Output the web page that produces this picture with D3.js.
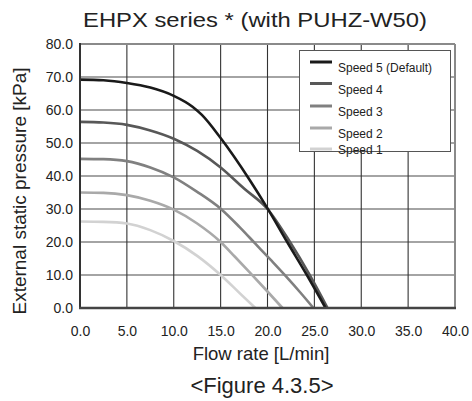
<!DOCTYPE html>
<html>
<head>
<meta charset="utf-8">
<script src="https://cdn.jsdelivr.net/npm/d3@7/dist/d3.min.js"></script>
<style>
  html, body { margin: 0; padding: 0; background: #fff; }
  svg { display: block; font-family: "Liberation Sans", Arial, sans-serif; }
</style>
</head>
<body>
<svg id="chart" width="472" height="401"></svg>
<script>
// ---- data ----
const title = "EHPX series * (with PUHZ-W50)";
const caption = "<Figure 4.3.5>";
const xLabel = "Flow rate [L/min]";
const yLabel = "External static pressure [kPa]";
const xTicks = [0, 5, 10, 15, 20, 25, 30, 35, 40];
const yTicks = [0, 10, 20, 30, 40, 50, 60, 70, 80];
const seriesNames = ["Speed 5 (Default)", "Speed 4", "Speed 3", "Speed 2", "Speed 1"];
const seriesColors = ["#1a1a1a", "#585858", "#808080", "#a9a9a9", "#d2d2d2"];

const speed5 = [[0,69.2],[2.5,69.0],[5,68.2],[7.5,66.8],[10,64.3],[12,61.0],[13,58.5],[15,51.5],[18.1,38.8],[20,30.2],[22.1,20.0],[24.2,10.0],[26.2,0]];
const speed4 = [[0,56.4],[2.5,56.2],[5,55.5],[7.5,53.8],[10,51.3],[12.5,47.6],[15,42.6],[17.5,36.2],[20,30.0],[22.4,20.0],[24.5,10.0],[26.4,0]];
const speed3 = [[0,45.2],[2.5,45.1],[5,44.5],[7.5,42.6],[10,39.6],[12.5,35.2],[15,30.1],[17,24.6],[18.7,19.5],[20.4,14.4],[22,9.5],[23.5,4.7],[24.9,0]];
const speed2 = [[0,35.0],[2.5,34.9],[5,34.2],[7.5,32.5],[10,29.8],[12.5,25.6],[15,20.0],[16.5,15.6],[18,11.1],[19.9,5.3],[21.6,0]];
const speed1 = [[0,26.2],[2.5,26.1],[5,25.6],[7.5,23.6],[10,20.3],[12.5,15.8],[15,10.0],[17,4.6],[18.7,0]];
const seriesData = [speed5, speed4, speed3, speed2, speed1];

// ---- layout ----
const L = 80, R = 455, T = 44, B = 308;
const svg = d3.select("#chart");
const x = d3.scaleLinear().domain([0, 40]).range([L, R]);
const y = d3.scaleLinear().domain([0, 80]).range([B, T]);

// grid
svg.append("g").selectAll("line").data(yTicks.slice(1, -1)).join("line")
  .attr("x1", L).attr("x2", R).attr("y1", d => y(d)).attr("y2", d => y(d))
  .attr("stroke", "#4a4a4a").attr("stroke-width", 1.2);
svg.append("g").selectAll("line").data(xTicks.slice(1, -1)).join("line")
  .attr("y1", T).attr("y2", B).attr("x1", d => x(d)).attr("x2", d => x(d))
  .attr("stroke", "#333").attr("stroke-width", 1.1);

// border top/right
svg.append("line").attr("x1", L).attr("x2", R).attr("y1", T).attr("y2", T)
  .attr("stroke", "#8a8a8a").attr("stroke-width", 2);
svg.append("line").attr("x1", R).attr("x2", R).attr("y1", T).attr("y2", B)
  .attr("stroke", "#8a8a8a").attr("stroke-width", 2);

// curves
const line = d3.line().x(d => x(d[0])).y(d => y(d[1])).curve(d3.curveMonotoneX);
svg.append("g").selectAll("path").data(seriesData.slice().reverse()).join("path")
  .attr("d", line)
  .attr("fill", "none")
  .attr("stroke", (d, i) => seriesColors[seriesData.length - 1 - i])
  .attr("stroke-width", 2.6)
  .attr("stroke-linejoin", "round");

// axes lines (left, bottom)
svg.append("line").attr("x1", L).attr("x2", L).attr("y1", T - 1).attr("y2", B + 1)
  .attr("stroke", "#333").attr("stroke-width", 2);
svg.append("line").attr("x1", L - 1).attr("x2", R + 1).attr("y1", B).attr("y2", B)
  .attr("stroke", "#444").attr("stroke-width", 2.5);

// axis tick labels via d3 axes
const yAxis = d3.axisLeft(y).tickValues(yTicks).tickFormat(d3.format(".1f")).tickSize(0).tickPadding(7);
const gy = svg.append("g").attr("transform", `translate(${L},0)`).call(yAxis);
gy.select(".domain").remove();
gy.selectAll("text").attr("font-size", 14).attr("fill", "#222")
  .attr("font-family", "Liberation Sans, Arial, sans-serif");

const xAxis = d3.axisBottom(x).tickValues(xTicks).tickFormat(d3.format(".1f")).tickSize(0).tickPadding(18);
const gx = svg.append("g").attr("transform", `translate(0,${B})`).call(xAxis);
gx.select(".domain").remove();
gx.selectAll("text").attr("font-size", 14).attr("fill", "#222")
  .attr("font-family", "Liberation Sans, Arial, sans-serif");

// legend
const lg = svg.append("g");
lg.append("rect").attr("x", 299.5).attr("y", 50.5).attr("width", 151).attr("height", 101)
  .attr("fill", "#fff").attr("stroke", "#555").attr("stroke-width", 1);
const rowLineY = [62, 83.5, 106, 128, 149];
const rowTextY = [72, 93.5, 116, 138, 154];
seriesNames.forEach((name, i) => {
  lg.append("line").attr("x1", 310).attr("x2", 332)
    .attr("y1", rowLineY[i]).attr("y2", rowLineY[i])
    .attr("stroke", seriesColors[i]).attr("stroke-width", 3);
  lg.append("text").attr("x", 338).attr("y", rowTextY[i])
    .attr("font-size", 12).attr("fill", "#222").text(name);
});

// titles
svg.append("text").attr("x", 255).attr("y", 27).attr("text-anchor", "middle")
  .attr("font-size", 21).attr("fill", "#222")
  .attr("textLength", 344).attr("lengthAdjust", "spacingAndGlyphs")
  .text(title);
svg.append("text").attr("x", 261).attr("y", 360).attr("text-anchor", "middle")
  .attr("font-size", 18.5).attr("fill", "#222").text(xLabel);
svg.append("text").attr("x", 262).attr("y", 393).attr("text-anchor", "middle")
  .attr("font-size", 22).attr("fill", "#222").text(caption);
svg.append("text").attr("transform", "translate(26,191) rotate(-90)")
  .attr("text-anchor", "middle").attr("font-size", 19).attr("fill", "#222").text(yLabel);
</script>
</body>
</html>
